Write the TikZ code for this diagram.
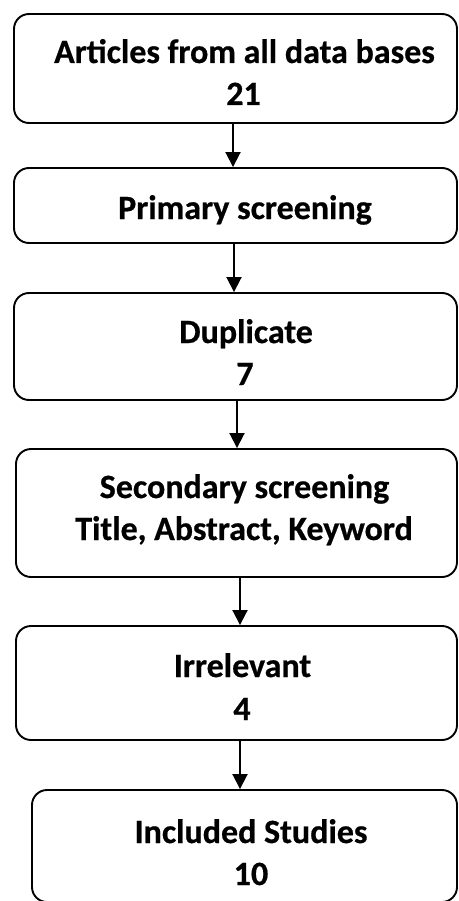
\documentclass[tikz,border=0pt]{standalone}
\usepackage{fontspec}
\setmainfont{Carlito}[BoldFeatures={FakeBold=0.6}]
\usetikzlibrary{arrows.meta}
\begin{document}
\begin{tikzpicture}[x=1pt,y=-1pt,
  box/.style={draw=black,line width=1.9pt,rounded corners=15pt,inner sep=0pt},
  txt/.style={anchor=base,inner sep=0pt,font=\fontsize{34}{38}\selectfont\bfseries},
  arr/.style={line width=1.9pt,-{Triangle[length=15pt,width=15pt]}}]
\useasboundingbox (0,0) rectangle (458,901);
\clip (0,0) rectangle (458,901);
\node[box,minimum width=443pt,minimum height=109pt] (b1) at (235.5,68.5) {};
\node[box,minimum width=443pt,minimum height=75pt] (b2) at (235.5,205.5) {};
\node[box,minimum width=443pt,minimum height=107pt] (b3) at (235.5,346.5) {};
\node[box,minimum width=441pt,minimum height=128pt] (b4) at (236.5,513) {};
\node[box,minimum width=441pt,minimum height=114pt] (b5) at (236.5,683) {};
\node[box,minimum width=425pt,minimum height=112pt] (b6) at (244.5,846) {};
\node[txt] (t1a) at (244.5,63) {Articles from all data bases};
\node[txt] (t1b) at (243.5,105) {21};
\node[txt] (t2) at (245,219) {Primary screening};
\node[txt] (t3a) at (246,343) {Duplicate};
\node[txt] (t3b) at (245,385) {7};
\node[txt] (t4a) at (244.5,498) {Secondary screening};
\node[txt] (t4b) at (244,540) {Title, Abstract, Keyword};
\node[txt] (t5a) at (242.5,677) {Irrelevant};
\node[txt] (t5b) at (242,720) {4};
\node[txt] (t6a) at (251,843) {Included Studies};
\node[txt] (t6b) at (251,885) {10};
\draw[arr] ([xshift=-2.5pt]b1.south) -- ([xshift=-2.5pt]b2.north);
\draw[arr] ([xshift=-1.5pt]b2.south) -- ([xshift=-1.5pt]b3.north);
\draw[arr] ([xshift=1.5pt]b3.south) -- ([xshift=0.5pt]b4.north);
\draw[arr] ([xshift=3.5pt]b4.south) -- ([xshift=3.5pt]b5.north);
\draw[arr] ([xshift=3.5pt]b5.south) -- ([xshift=-4.5pt]b6.north);
\end{tikzpicture}
\end{document}
